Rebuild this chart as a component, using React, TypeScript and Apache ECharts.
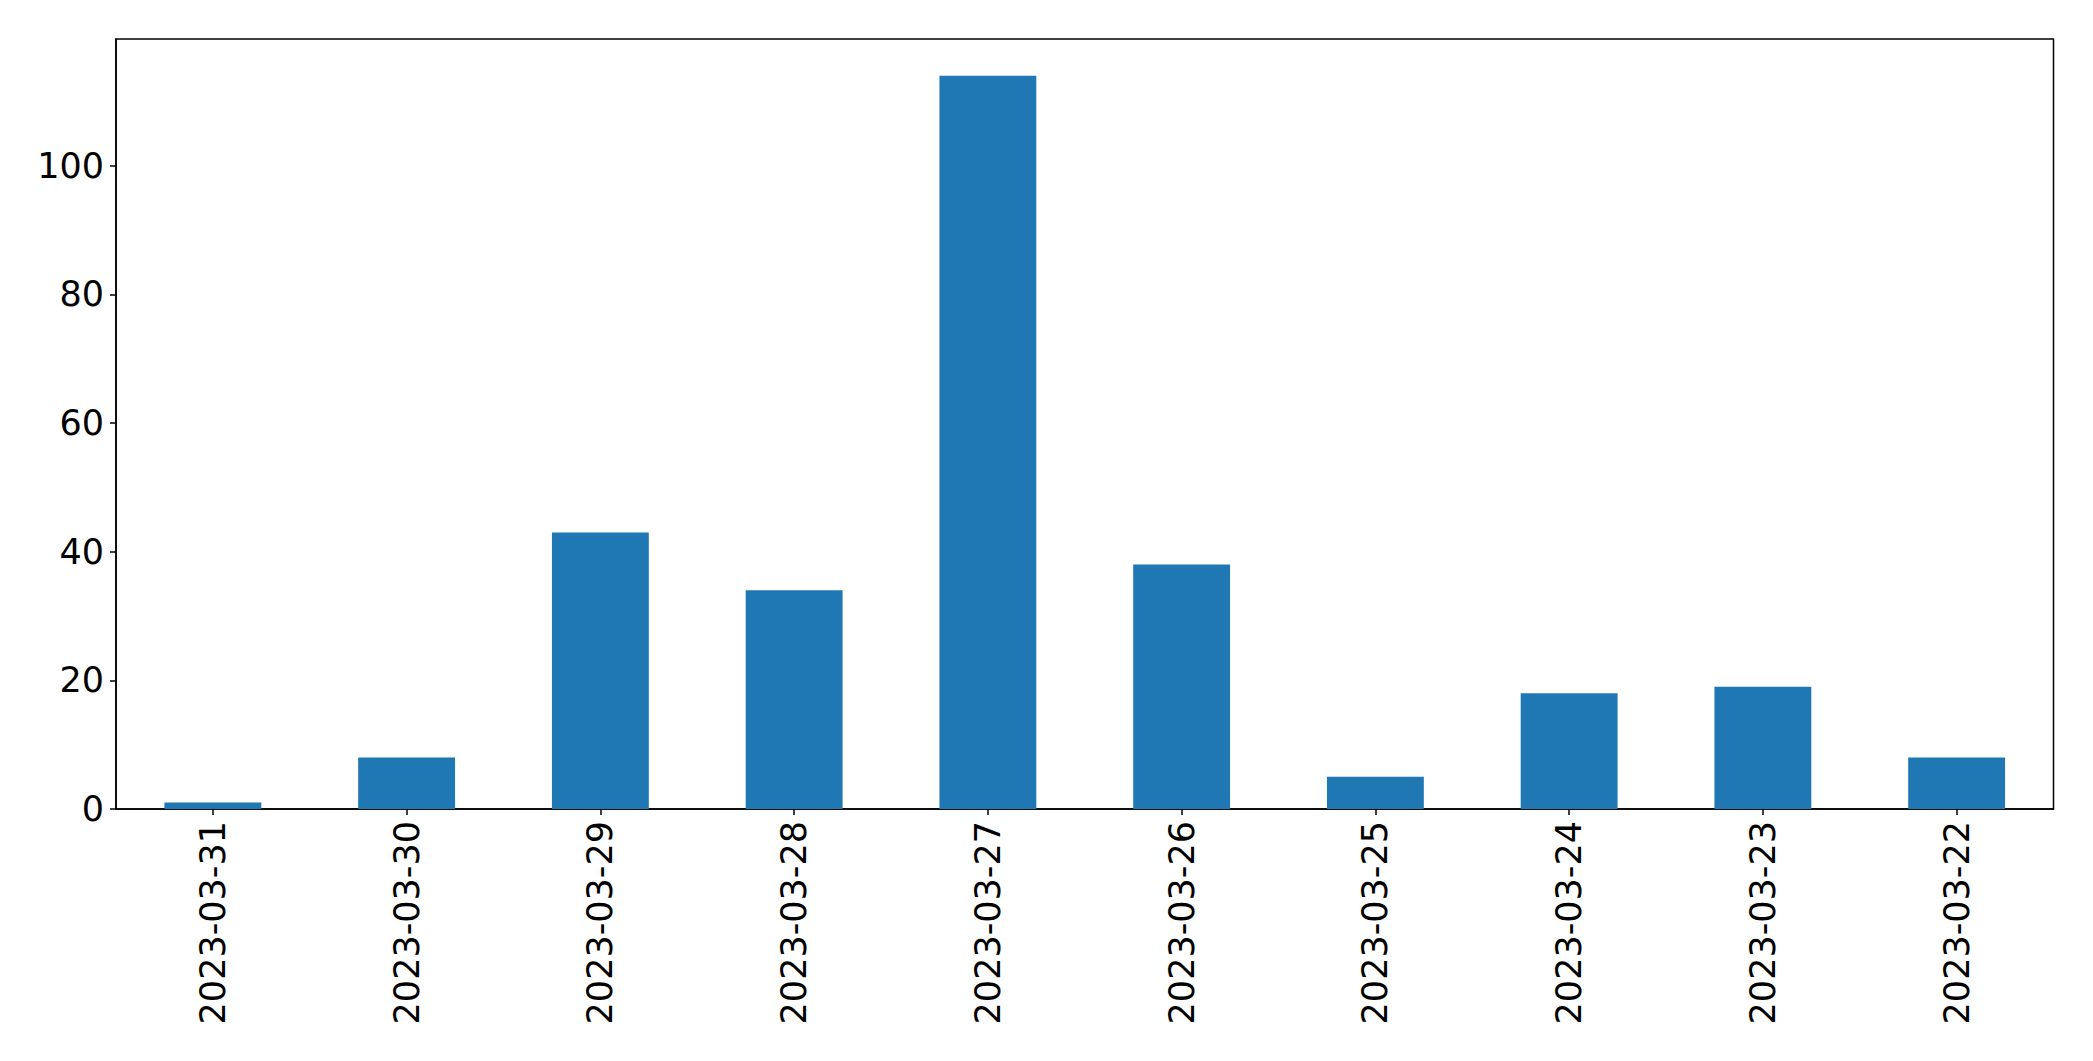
import React, { useEffect, useRef } from "react";
import * as echarts from "echarts";

const categories = [
  "2023-03-31",
  "2023-03-30",
  "2023-03-29",
  "2023-03-28",
  "2023-03-27",
  "2023-03-26",
  "2023-03-25",
  "2023-03-24",
  "2023-03-23",
  "2023-03-22",
];
const counts = [1, 8, 43, 34, 114, 38, 5, 18, 19, 8];
const yTicks = [0, 20, 40, 60, 80, 100];
const yMax = 119.7;

export default function App() {
  const ref = useRef<HTMLDivElement>(null);
  useEffect(() => {
    if (!ref.current) return;
    const chart = echarts.init(ref.current, null, { renderer: "svg" });
    const font = "DejaVu Sans";
    chart.setOption({
      animation: false,
      backgroundColor: "#ffffff",
      grid: {
        left: 116,
        right: 39.5,
        top: 39,
        bottom: 252,
        show: true,
        borderColor: "#000000",
        borderWidth: 1.5,
        backgroundColor: "transparent",
      },
      xAxis: {
        type: "category",
        data: categories,
        axisLine: { show: true, lineStyle: { color: "#000000", width: 1.5 } },
        axisTick: {
          show: true,
          alignWithLabel: true,
          length: 6,
          lineStyle: { color: "#000000", width: 1.5 },
        },
        axisLabel: {
          rotate: 90,
          margin: 12,
          interval: 0,
          color: "#000000",
          fontFamily: font,
          fontSize: 35,
        },
        splitLine: { show: false },
      },
      yAxis: {
        type: "value",
        min: 0,
        max: yMax,
        interval: 20,
        axisLine: { show: true, lineStyle: { color: "#000000", width: 1.5 } },
        axisTick: {
          show: true,
          length: 6,
          customValues: yTicks,
          lineStyle: { color: "#000000", width: 1.5 },
        },
        axisLabel: {
          customValues: yTicks,
          margin: 12,
          color: "#000000",
          fontFamily: font,
          fontSize: 35,
        },
        splitLine: { show: false },
      },
      series: [
        {
          type: "bar",
          data: counts,
          barWidth: "50%",
          itemStyle: { color: "#1f77b4" },
        },
      ],
    });
    return () => chart.dispose();
  }, []);
  return (
    <div
      ref={ref}
      style={{ position: "fixed", left: 0, top: 0, width: 2093, height: 1061 }}
    />
  );
}
